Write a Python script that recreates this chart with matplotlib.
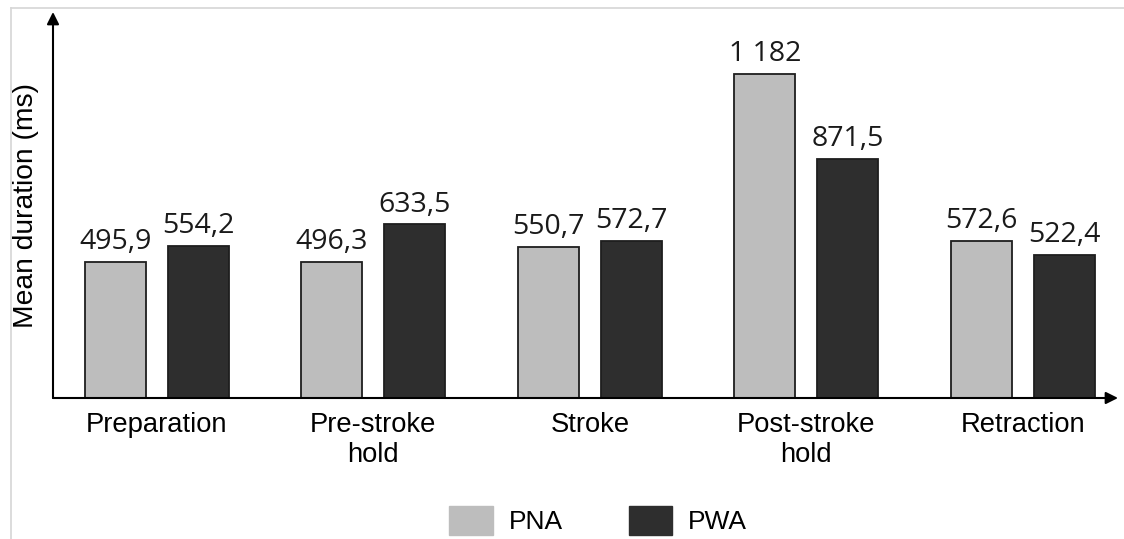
import numpy as np
import matplotlib.pyplot as plt
from matplotlib.lines import Line2D
from matplotlib.patches import Patch

categories = ["Preparation", "Pre-stroke\nhold", "Stroke", "Post-stroke\nhold", "Retraction"]
pna = [495.9, 496.3, 550.7, 1182, 572.6]
pwa = [554.2, 633.5, 572.7, 871.5, 522.4]
series_names = ["PNA", "PWA"]

light = "#bdbdbd"
dark = "#2e2e2e"
edge = "#1e1e1e"


def fmt(v):
    if float(v).is_integer():
        return f"{int(v):,}".replace(",", " ")
    return f"{v:.1f}".replace(".", ",")


def main():
    fig = plt.figure(figsize=(11.24, 5.39), dpi=100)
    W, H = 1124, 539
    ax = fig.add_axes([53 / W, 1 - 398 / H, (1118 - 53) / W, (398 - 12) / H])

    x = np.arange(len(categories))
    off = 0.192
    w = 0.282
    ax.bar(x - off, pna, width=w, color=light, edgecolor=edge, linewidth=1.3)
    ax.bar(x + off, pwa, width=w, color=dark, edgecolor=edge, linewidth=1.3)

    for xi, v in zip(x - off, pna):
        ax.text(xi, v + 20, fmt(v), ha="center", va="bottom",
                fontsize=20.5, family="Open Sans", color="#1a1a1a")
    for xi, v in zip(x + off, pwa):
        ax.text(xi, v + 20, fmt(v), ha="center", va="bottom",
                fontsize=20.5, family="Open Sans", color="#1a1a1a")

    ax.set_xlim(-0.48, 4.44)
    ax.set_ylim(0, 1407)
    for s in ax.spines.values():
        s.set_visible(False)
    ax.set_yticks([])
    ax.set_xticks(x)
    ax.set_xticklabels(categories, fontsize=19.7, family="Liberation Sans",
                       linespacing=1.2)
    ax.tick_params(axis="x", length=0, pad=10)
    ax.set_ylabel("Mean duration (ms)", fontsize=20.3, family="Liberation Sans",
                  labelpad=10)

    ap = dict(arrowstyle="-|>", color="black", lw=1.5, mutation_scale=18,
              shrinkA=0, shrinkB=0)
    ax.annotate("", xy=(0, 1), xytext=(0, 0), xycoords="axes fraction",
                arrowprops=ap, annotation_clip=False)
    ax.annotate("", xy=(1, 0), xytext=(0, 0), xycoords="axes fraction",
                arrowprops=ap, annotation_clip=False)

    # thin gray frame at top and left
    fig.add_artist(Line2D([11 / W, 1], [1 - 8 / H, 1 - 8 / H], color="#d6d6d6", lw=1.2))
    fig.add_artist(Line2D([11 / W, 11 / W], [0, 1 - 8 / H], color="#d6d6d6", lw=1.2))

    handles = [Patch(facecolor=light, edgecolor=light),
               Patch(facecolor=dark, edgecolor=dark)]
    fig.legend(handles, series_names, loc="lower center", ncol=2,
               bbox_to_anchor=(0.532, -0.036), frameon=False,
               prop={"family": "Liberation Sans", "size": 19},
               handlelength=1.65, handleheight=1.3, handletextpad=0.6,
               columnspacing=2.5)

    fig.savefig("out.png", dpi=100)


if __name__ == "__main__":
    main()
